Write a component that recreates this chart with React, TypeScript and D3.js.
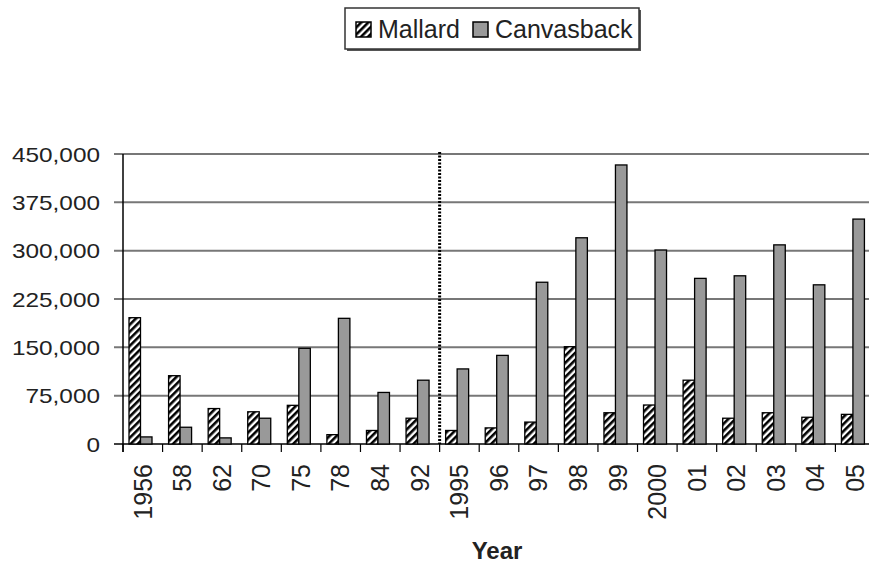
import React from "react";
import * as d3 from "d3";

const years = ["1956", "58", "62", "70", "75", "78", "84", "92", "1995", "96", "97", "98", "99", "2000", "01", "02", "03", "04", "05"];
const mallard = [196000, 106000, 55000, 50000, 60000, 14500, 21000, 40000, 21000, 25000, 34000, 151000, 48500, 60500, 99000, 40000, 48500, 41500, 46000];
const canvasback = [11000, 26000, 9500, 40000, 148500, 195000, 80000, 99000, 116500, 137500, 251000, 320000, 433000, 301000, 257000, 261000, 309000, 247000, 349000];
const yTicks = [0, 75000, 150000, 225000, 300000, 375000, 450000];
const seriesNames = ["Mallard", "Canvasback"];

const W = 869, H = 564;
const left = 123, right = 875, top = 154, bottom = 444;
const font = "'Liberation Sans', Arial, sans-serif";

export default function App() {
  const x = d3.scaleBand<string>().domain(years).range([left, right]).paddingInner(0).paddingOuter(0);
  const y = d3.scaleLinear().domain([0, 450000]).range([bottom, top]);
  const bw = 11.5;
  const off = 6;
  const fmt = d3.format(",");
  const dividerX = x("1995")!;
  return (
    <svg width={W} height={H} style={{ position: "absolute", left: 0, top: 0, background: "#fff" }}>
      <defs>
        <pattern id="hatch" patternUnits="userSpaceOnUse" width={5} height={5} patternTransform="rotate(45)">
          <rect width={5} height={5} fill="#fff" />
          <rect width={2.6} height={5} fill="#000" />
        </pattern>
      </defs>
      {/* gridlines */}
      {yTicks.map((t) => (
        <line key={"g" + t} x1={left - 9} x2={W} y1={y(t)} y2={y(t)} stroke={t === 0 ? "#000" : "#777"} strokeWidth={t === 0 ? 1.5 : 2} />
      ))}
      {yTicks.map((t) => (
        <text key={"t" + t} transform={`translate(100,${y(t)}) scale(1.16,1)`} dy="0.36em" textAnchor="end" fontFamily={font} fontSize={21} fill="#222">
          {fmt(t)}
        </text>
      ))}
      {/* bars */}
      {years.map((yr, i) => (
        <g key={yr}>
          <rect x={x(yr)! + off} y={y(mallard[i])} width={bw} height={bottom - y(mallard[i])} fill="url(#hatch)" stroke="#000" strokeWidth={1.3} />
          <rect x={x(yr)! + off + bw} y={y(canvasback[i])} width={bw} height={bottom - y(canvasback[i])} fill="#999" stroke="#000" strokeWidth={1.3} />
        </g>
      ))}
      {/* axes */}
      <line x1={left} x2={left} y1={top} y2={bottom + 8} stroke="#000" strokeWidth={1.5} />
      {years.map((yr) => (
        <line key={"xt" + yr} x1={x(yr)!} x2={x(yr)!} y1={bottom} y2={bottom + 8} stroke="#000" strokeWidth={1.2} />
      ))}
      <line x1={dividerX} x2={dividerX} y1={top - 2} y2={bottom} stroke="#000" strokeWidth={3} strokeDasharray="2,1.5" />
      {years.map((yr) => (
        <text key={"xl" + yr} transform={`translate(${x(yr)! + x.bandwidth() / 2 + 8.8},${464}) rotate(-90)`} textAnchor="end" fontFamily={font} fontSize={25} fill="#222">
          {yr}
        </text>
      ))}
      <text x={497} y={559} textAnchor="middle" fontFamily={font} fontSize={24} fontWeight="bold" fill="#222">Year</text>
      {/* legend */}
      <g>
        <rect x={347} y={10} width={294} height={41} fill="#555" />
        <rect x={345} y={8} width={294} height={41} fill="#fff" stroke="#333" strokeWidth={1.5} />
        <rect x={356} y={22} width={15} height={15} fill="url(#hatch)" stroke="#000" strokeWidth={1.5} />
        <text x={378} y={38} fontFamily={font} fontSize={25} fill="#222">{seriesNames[0]}</text>
        <rect x={473} y={22} width={15} height={15} fill="#999" stroke="#000" strokeWidth={1.5} />
        <text x={495} y={38} fontFamily={font} fontSize={25} fill="#222">{seriesNames[1]}</text>
      </g>
    </svg>
  );
}
